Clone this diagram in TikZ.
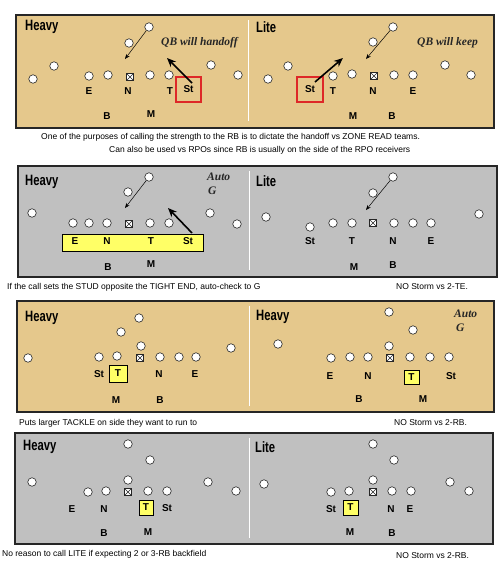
\documentclass[tikz,border=0pt]{standalone}
\usepackage{fontspec}
\setmainfont{Liberation Sans}
\newfontfamily\serifit{Liberation Serif}
\usetikzlibrary{arrows.meta}
\definecolor{tanfill}{RGB}{229,200,140}
\definecolor{panelgray}{RGB}{192,192,192}
\definecolor{boxred}{RGB}{222,40,40}
\definecolor{lblyellow}{RGB}{255,255,102}
\newcommand{\ttlx}[1]{\scalebox{0.75}[1]{#1}}
\begin{document}
\begin{tikzpicture}[x=1pt,y=-1pt,
 panel/.style={draw=black!85, line width=1.3pt},
 divider/.style={draw=white, line width=1pt},
 pl/.style={circle, draw=black!85, fill=white, line width=0.6pt, minimum size=8.5pt, inner sep=0pt},
 ctr/.style={rectangle, draw=black!85, fill=white, line width=0.6pt, minimum size=7.5pt, inner sep=0pt,
   path picture={\draw[line width=0.4pt] (path picture bounding box.south west)--(path picture bounding box.north east) (path picture bounding box.north west)--(path picture bounding box.south east);}},
 lbl/.style={font=\fontsize{10}{12}\selectfont\bfseries, inner sep=0pt},
 paneltitle/.style={font=\fontsize{15}{18}\selectfont\bfseries, anchor=west, inner sep=0pt},
 note/.style={font=\fontsize{11.5}{13}\selectfont\serifit\bfseries\itshape, anchor=west, inner sep=0pt, text=black!85},
 captxt/.style={font=\fontsize{8.5}{10}\selectfont, anchor=west, inner sep=0pt},
 redbox/.style={lbl, draw=boxred, line width=1.1pt},
 ybox/.style={draw=black, fill=lblyellow, line width=0.7pt, inner sep=0pt},
 thinarr/.style={draw=black, line width=0.5pt, -{Stealth[length=5pt,width=4pt]}},
 thickarr/.style={draw=black, line width=1.6pt, -{Stealth[length=9pt,width=7.5pt]}}
]
\useasboundingbox (0,0) rectangle (502,571);
\fill[white] (0,0) rectangle (502,571);

% ================= PANEL 1 =================
\draw[panel, fill=tanfill] (16,15) rectangle (494,128);
\draw[divider] (248,20) -- (248,121);
\node[paneltitle] (t1a) at (25,27) {\ttlx{Heavy}};
\node[paneltitle] (t1b) at (256,27) {\ttlx{Lite}};
\foreach \px/\py [count=\i] in {33/79,54/66,89/76,108/75,150/75,169/75,211/65,238/75,129/43,149/27}
  \node[pl] (p1a\i) at (\px,\py) {};
\node[ctr] (c1a) at (130,77) {};
\node[lbl] (l1aE) at (89,91) {E};
\node[lbl] (l1aN) at (128,91) {N};
\node[lbl] (l1aT) at (170,91) {T};
\node[redbox, minimum width=25pt, minimum height=25pt] (l1aS) at (188.5,89.5) {St};
\node[lbl] (l1aB) at (107,116) {B};
\node[lbl] (l1aM) at (151,114) {M};
\coordinate (a1a) at (125,59);
\coordinate (k1a) at (167,58);
\coordinate (s1a) at (192,83);
\draw[thinarr] (p1a10) -- (a1a);
\draw[thickarr] (s1a) -- (k1a);
\node[note] (n1a) at (161,43) {QB will handoff};

\foreach \px/\py [count=\i] in {268/79,288/66,333/76,352/74,394/75,413/75,445/65,471/75,373/42,393/27}
  \node[pl] (p1b\i) at (\px,\py) {};
\node[ctr] (c1b) at (374,76) {};
\node[redbox, minimum width=26pt, minimum height=25pt] (l1bS) at (310,89.5) {St};
\node[lbl] (l1bT) at (333,91) {T};
\node[lbl] (l1bN) at (373,91) {N};
\node[lbl] (l1bE) at (413,91) {E};
\node[lbl] (l1bM) at (353,116) {M};
\node[lbl] (l1bB) at (392,116) {B};
\coordinate (a1b) at (366,59);
\coordinate (k1b) at (343,58);
\coordinate (s1b) at (315,82);
\draw[thinarr] (p1b10) -- (a1b);
\draw[thickarr] (s1b) -- (k1b);
\node[note] (n1b) at (417,43) {QB will keep};

\node[captxt] (cap1a) at (41,137) {One of the purposes of calling the strength to the RB is to dictate the handoff vs ZONE READ teams.};
\node[captxt] (cap1b) at (109,150) {Can also be used vs RPOs since RB is usually on the side of the RPO receivers};

% ================= PANEL 2 =================
\draw[panel, fill=panelgray] (18,166) rectangle (497,277);
\draw[divider] (249,171) -- (249,270);
\node[paneltitle] (t2a) at (25,182) {\ttlx{Heavy}};
\node[paneltitle] (t2b) at (256,181) {\ttlx{Lite}};
\foreach \px/\py [count=\i] in {32/213,73/223,89/223,107/223,150/223,169/223,210/213,237/224,128/192,149/177}
  \node[pl] (p2a\i) at (\px,\py) {};
\node[ctr] (c2a) at (129,224) {};
\node[ybox, minimum width=141pt, minimum height=17pt] (y2a) at (132.5,242.5) {};
\node[lbl] (l2aE) at (75,241) {E};
\node[lbl] (l2aN) at (107,241) {N};
\node[lbl] (l2aT) at (151,241) {T};
\node[lbl] (l2aS) at (188,241) {St};
\node[lbl] (l2aB) at (108,267) {B};
\node[lbl] (l2aM) at (151,264) {M};
\coordinate (a2a) at (125,208);
\coordinate (k2a) at (168,208);
\coordinate (s2a) at (192,233);
\draw[thinarr] (p2a10) -- (a2a);
\draw[thickarr] (s2a) -- (k2a);
\node[note] (n2a) at (207,177) {Auto};
\node[note] (g2a) at (208,191) {G};

\foreach \px/\py [count=\i] in {266/217,310/227,333/223,352/223,394/223,413/223,431/223,479/214,373/193,393/177}
  \node[pl] (p2b\i) at (\px,\py) {};
\node[ctr] (c2b) at (373,223) {};
\node[lbl] (l2bS) at (310,241) {St};
\node[lbl] (l2bT) at (352,241) {T};
\node[lbl] (l2bN) at (393,241) {N};
\node[lbl] (l2bE) at (431,241) {E};
\node[lbl] (l2bM) at (354,267) {M};
\node[lbl] (l2bB) at (393,265) {B};
\coordinate (a2b) at (366,210);
\draw[thinarr] (p2b10) -- (a2b);

\node[captxt] (cap2a) at (7,287) {If the call sets the STUD opposite the TIGHT END, auto-check to G};
\node[captxt] (cap2b) at (396,287) {NO Storm vs 2-TE.};

% ================= PANEL 3 =================
\draw[panel, fill=tanfill] (17,301) rectangle (494,412);
\draw[divider] (249,306) -- (249,406);
\node[paneltitle] (t3a) at (25,318) {\ttlx{Heavy}};
\node[paneltitle] (t3b) at (256,317) {\ttlx{Heavy}};
\foreach \px/\py [count=\i] in {139/318,121/332,141/346,28/358,99/357,117/356,160/357,179/357,196/357,231/348}
  \node[pl] (p3a\i) at (\px,\py) {};
\node[ctr] (c3a) at (140,358) {};
\node[lbl] (l3aS) at (99,374) {St};
\node[ybox, lbl, minimum width=18pt, minimum height=17pt] (l3aT) at (118,373.5) {T};
\node[lbl] (l3aN) at (159,374) {N};
\node[lbl] (l3aE) at (195,374) {E};
\node[lbl] (l3aM) at (116,400) {M};
\node[lbl] (l3aB) at (160,400) {B};

\foreach \px/\py [count=\i] in {389/312,413/330,278/344,389/346,331/358,350/357,368/357,410/357,430/357,449/357}
  \node[pl] (p3b\i) at (\px,\py) {};
\node[ctr] (c3b) at (390,358) {};
\node[lbl] (l3bE) at (330,376) {E};
\node[lbl] (l3bN) at (368,376) {N};
\node[ybox, lbl, minimum width=15pt, minimum height=14pt] (l3bT) at (411.5,377) {T};
\node[lbl] (l3bS) at (451,376) {St};
\node[lbl] (l3bB) at (359,399) {B};
\node[lbl] (l3bM) at (423,399) {M};
\node[note] (n3b) at (454,314) {Auto};
\node[note] (g3b) at (456,328) {G};

\node[captxt] (cap3a) at (19,423) {Puts larger TACKLE on side they want to run to};
\node[captxt] (cap3b) at (394,423) {NO Storm vs 2-RB.};

% ================= PANEL 4 =================
\draw[panel, fill=panelgray] (15,433) rectangle (493,544);
\draw[divider] (249,438) -- (249,538);
\node[paneltitle] (t4a) at (23,447) {\ttlx{Heavy}};
\node[paneltitle] (t4b) at (255,447) {\ttlx{Lite}};
\foreach \px/\py [count=\i] in {128/444,150/460,32/482,128/480,88/492,106/491,148/491,167/491,208/482,236/491}
  \node[pl] (p4a\i) at (\px,\py) {};
\node[ctr] (c4a) at (128,492) {};
\node[lbl] (l4aE) at (72,509) {E};
\node[lbl] (l4aN) at (104,509) {N};
\node[ybox, lbl, minimum width=14pt, minimum height=15pt] (l4aT) at (146,507.5) {T};
\node[lbl] (l4aS) at (167,508) {St};
\node[lbl] (l4aB) at (104,533) {B};
\node[lbl] (l4aM) at (148,532) {M};

\foreach \px/\py [count=\i] in {373/444,394/460,264/484,373/480,331/492,349/491,392/491,411/491,450/482,469/491}
  \node[pl] (p4b\i) at (\px,\py) {};
\node[ctr] (c4b) at (373,492) {};
\node[lbl] (l4bS) at (331,509) {St};
\node[ybox, lbl, minimum width=15pt, minimum height=15pt] (l4bT) at (350.5,507.5) {T};
\node[lbl] (l4bN) at (391,509) {N};
\node[lbl] (l4bE) at (410,509) {E};
\node[lbl] (l4bM) at (350,532) {M};
\node[lbl] (l4bB) at (392,533) {B};

\node[captxt] (cap4a) at (2,554) {No reason to call LITE if expecting 2 or 3-RB backfield};
\node[captxt] (cap4b) at (396,556) {NO Storm vs 2-RB.};
\end{tikzpicture}
\end{document}
